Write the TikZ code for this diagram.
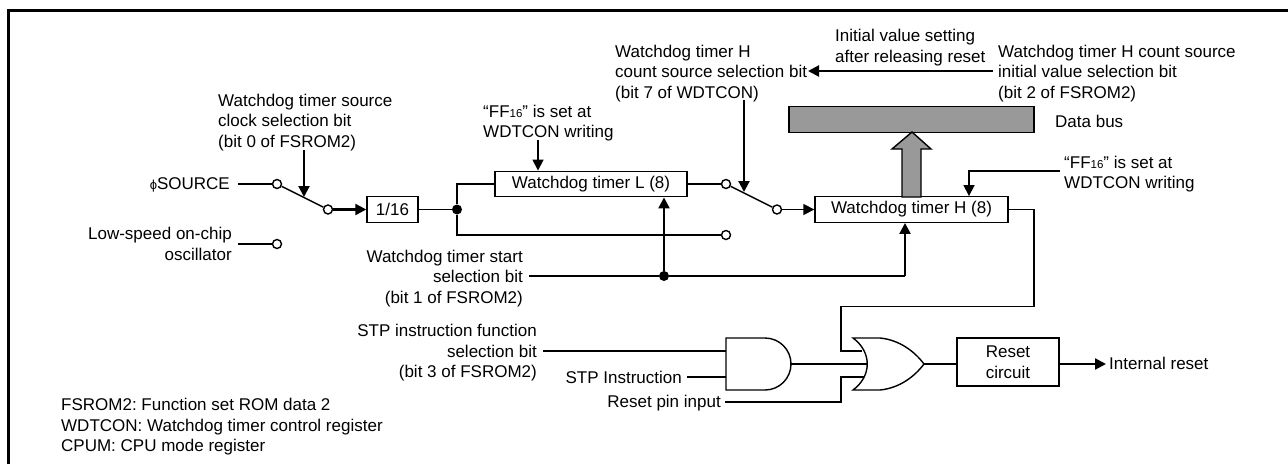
\documentclass[tikz,border=0pt]{standalone}
\usepackage{fontspec}
\setmainfont{Liberation Sans}
\usetikzlibrary{arrows.meta}
\frenchspacing
\newcommand{\smalldigits}[1]{{\fontsize{11.5}{12}\selectfont #1}}
\tikzset{
  lbl/.style={inner sep=0pt,align=left,font=\fontsize{17}{20.5}\selectfont},
  lblr/.style={lbl,align=right},
  regbox/.style={draw,line width=1.4pt,fill=white,minimum height=25.5pt,inner sep=0pt,font=\fontsize{17}{20.5}\selectfont},
  sw/.style={circle,draw,line width=1.4pt,fill=white,minimum size=9pt,inner sep=0pt},
  dot/.style={circle,fill=black,minimum size=10pt,inner sep=0pt},
  wire/.style={line width=1.4pt},
  ctl/.style={line width=2.2pt,-{Triangle[length=11pt,width=11pt]}},
  ctlthin/.style={ctl,line width=1.7pt},
  bar/.style={draw,line width=1.4pt,fill=black!40},
}
\begin{document}
\begin{tikzpicture}[x=1pt,y=-1pt]
\useasboundingbox (0,0) rectangle (1288,464);
\coordinate (framea) at (8.5,464);
\coordinate (frameb) at (8.5,10.5);
\coordinate (framec) at (1288,10.5);
\draw[line width=3pt] (framea) -- (frameb) -- (framec);

\node[lblr,anchor=east] (phisrc) at (230,184.5) {{\fontsize{13}{13}\selectfont ϕ}SOURCE};
\node[lblr,anchor=east] (lowosc) at (232,244) {Low-speed on-chip\\oscillator};
\node[lbl,anchor=west] (lblclk) at (218,122.5) {Watchdog timer source\\clock selection bit\\(bit 0 of FSROM2)};
\node[lbl,anchor=west] (lblffl) at (483,123) {“FF\smalldigits{16}” is set at\\WDTCON writing};
\node[lbl,anchor=west] (lblcnt) at (615,73.5) {Watchdog timer H\\count source selection bit\\(bit 7 of WDTCON)};
\node[lbl,anchor=west] (lblinit) at (835,47.5) {Initial value setting\\after releasing reset};
\node[lbl,anchor=west] (lblsrc) at (998,73.5) {Watchdog timer H count source\\initial value selection bit\\(bit 2 of FSROM2)};
\node[lbl,anchor=west] (lblbus) at (1055,121) {Data bus};
\node[lbl,anchor=west] (lblffh) at (1064,174) {“FF\smalldigits{16}” is set at\\WDTCON writing};
\node[lblr,anchor=east] (lblstart) at (523,278.5) {Watchdog timer start\\selection bit\\(bit 1 of FSROM2)};
\node[lblr,anchor=east] (lblstp) at (537,353) {STP instruction function\\selection bit\\(bit 3 of FSROM2)};
\node[lblr,anchor=east] (lblins) at (682,377) {STP Instruction};
\node[lblr,anchor=east] (lblpin) at (721,403) {Reset pin input};
\node[lbl,anchor=west] (lblint) at (1109,363) {Internal reset};
\node[lbl,anchor=west] (lbllegend) at (61,427) {FSROM2: Function set ROM data 2\\WDTCON: Watchdog timer control register\\CPUM: CPU mode register};

\node[regbox,minimum width=51pt] (div) at (392.5,209.5) {1/16};
\node[regbox,minimum width=192pt] (wdtl) at (591,184) {Watchdog timer L (8)};
\node[regbox,minimum width=193pt] (wdth) at (911.5,209.5) {Watchdog timer H (8)};
\node[regbox,minimum width=102pt,minimum height=48pt,align=center] (rst) at (1008,362) {Reset\\circuit};
\node[bar,minimum width=245pt,minimum height=25.5pt,inner sep=0pt] (bus) at (911.5,119.5) {};

\node[sw] (sa) at (277,184) {};
\node[sw] (sb) at (277,244) {};
\node[sw] (sc) at (328,209.5) {};
\node[sw] (sd) at (726,184) {};
\node[sw] (se) at (726,235) {};
\node[sw] (sf) at (777,209.5) {};
\node[dot] (ja) at (457,209.5) {};
\node[dot] (jb) at (664,276) {};

\coordinate (phiend) at (238,184);
\coordinate (oscend) at (238,244);
\coordinate (clkarm) at (304,197);
\coordinate (clktop) at (304,150);
\coordinate (cntarm) at (744,192);
\coordinate (cnttop) at (744,100);
\coordinate (fflo) at (538,140);
\coordinate (starta) at (529,276);
\coordinate (hin) at (905,276);
\coordinate (ffhc) at (969,171);
\coordinate (ffhe) at (1060,171);
\coordinate (inita) at (993,71);
\coordinate (initb) at (808,71);
\coordinate (intend) at (1106,364);
\coordinate (stpa) at (543,351);
\coordinate (insa) at (687,377);
\coordinate (pina) at (725,402);
\coordinate (turn) at (841,351);
\coordinate (turnb) at (841,377);
\coordinate (orin) at (862,351);
\coordinate (orinb) at (864,377);
\coordinate (ormid) at (867,364);
\coordinate (ortip) at (924,364);
\coordinate (andtip) at (790,364);
\coordinate (andin) at (726,351);
\coordinate (andinb) at (726,377);
\coordinate (htail) at (1034,209.5);
\coordinate (htailb) at (1034,306.5);
\coordinate (htailc) at (841,306.5);
\coordinate (pinb) at (841,402);
\coordinate (rstin) at (957,364);
\coordinate (rstout) at (1059,364);

\draw[wire] (phiend) -- (sa);
\draw[wire] (oscend) -- (sb);
\draw[wire] (sa) -- (sc);
\draw[wire] (sd) -- (sf);
\draw[ctl] (clktop) -- (clkarm);
\draw[ctl] (cnttop) -- (cntarm);
\draw[ctl] (sc) -- (div);
\draw[wire] (div) -- (ja);
\draw[wire] (ja) |- (wdtl);
\draw[wire] (ja) |- (se);
\draw[wire] (wdtl) -- (sd);
\draw[ctlthin] (sf) -- (wdth);
\draw[ctlthin] (fflo) -- (wdtl.north -| fflo);
\draw[ctl] (jb) -- (wdtl.south -| jb);
\draw[wire] (starta) -- (jb);
\draw[wire] (jb) -- (hin);
\draw[ctl] (hin) -- (wdth.south -| hin);
\draw[ctlthin] (ffhe) -- (ffhc) -- (wdth.north -| ffhc);
\draw[ctl] (inita) -- (initb);

% data bus arrow
\draw[bar] (921,197) -- (921,149) -- (931,149) -- (912,132) -- (892,149) -- (902,149) -- (902,197) -- cycle;

% gates
\draw[wire] (726,338) -- (765,338) arc[start angle=90,end angle=-90,radius=26pt] -- (726,390) -- cycle;
\draw[wire] (853,338) -- (880,338) .. controls (900,340) and (915,352) .. (ortip) .. controls (915,376) and (900,388) .. (880,390) -- (853,390) .. controls (872,376) and (872,352) .. cycle;

\draw[wire] (wdth.east) -- (htail) -- (htailb) -- (htailc) -- (turn) -- (orin);
\draw[wire] (andtip) -- (ormid);
\draw[wire] (pina) -- (pinb) -- (turnb) -- (orinb);
\draw[wire] (stpa) -- (andin);
\draw[wire] (insa) -- (andinb);
\draw[wire] (ortip) -- (rstin);
\draw[ctl] (rstout) -- (intend);
\end{tikzpicture}
\end{document}
